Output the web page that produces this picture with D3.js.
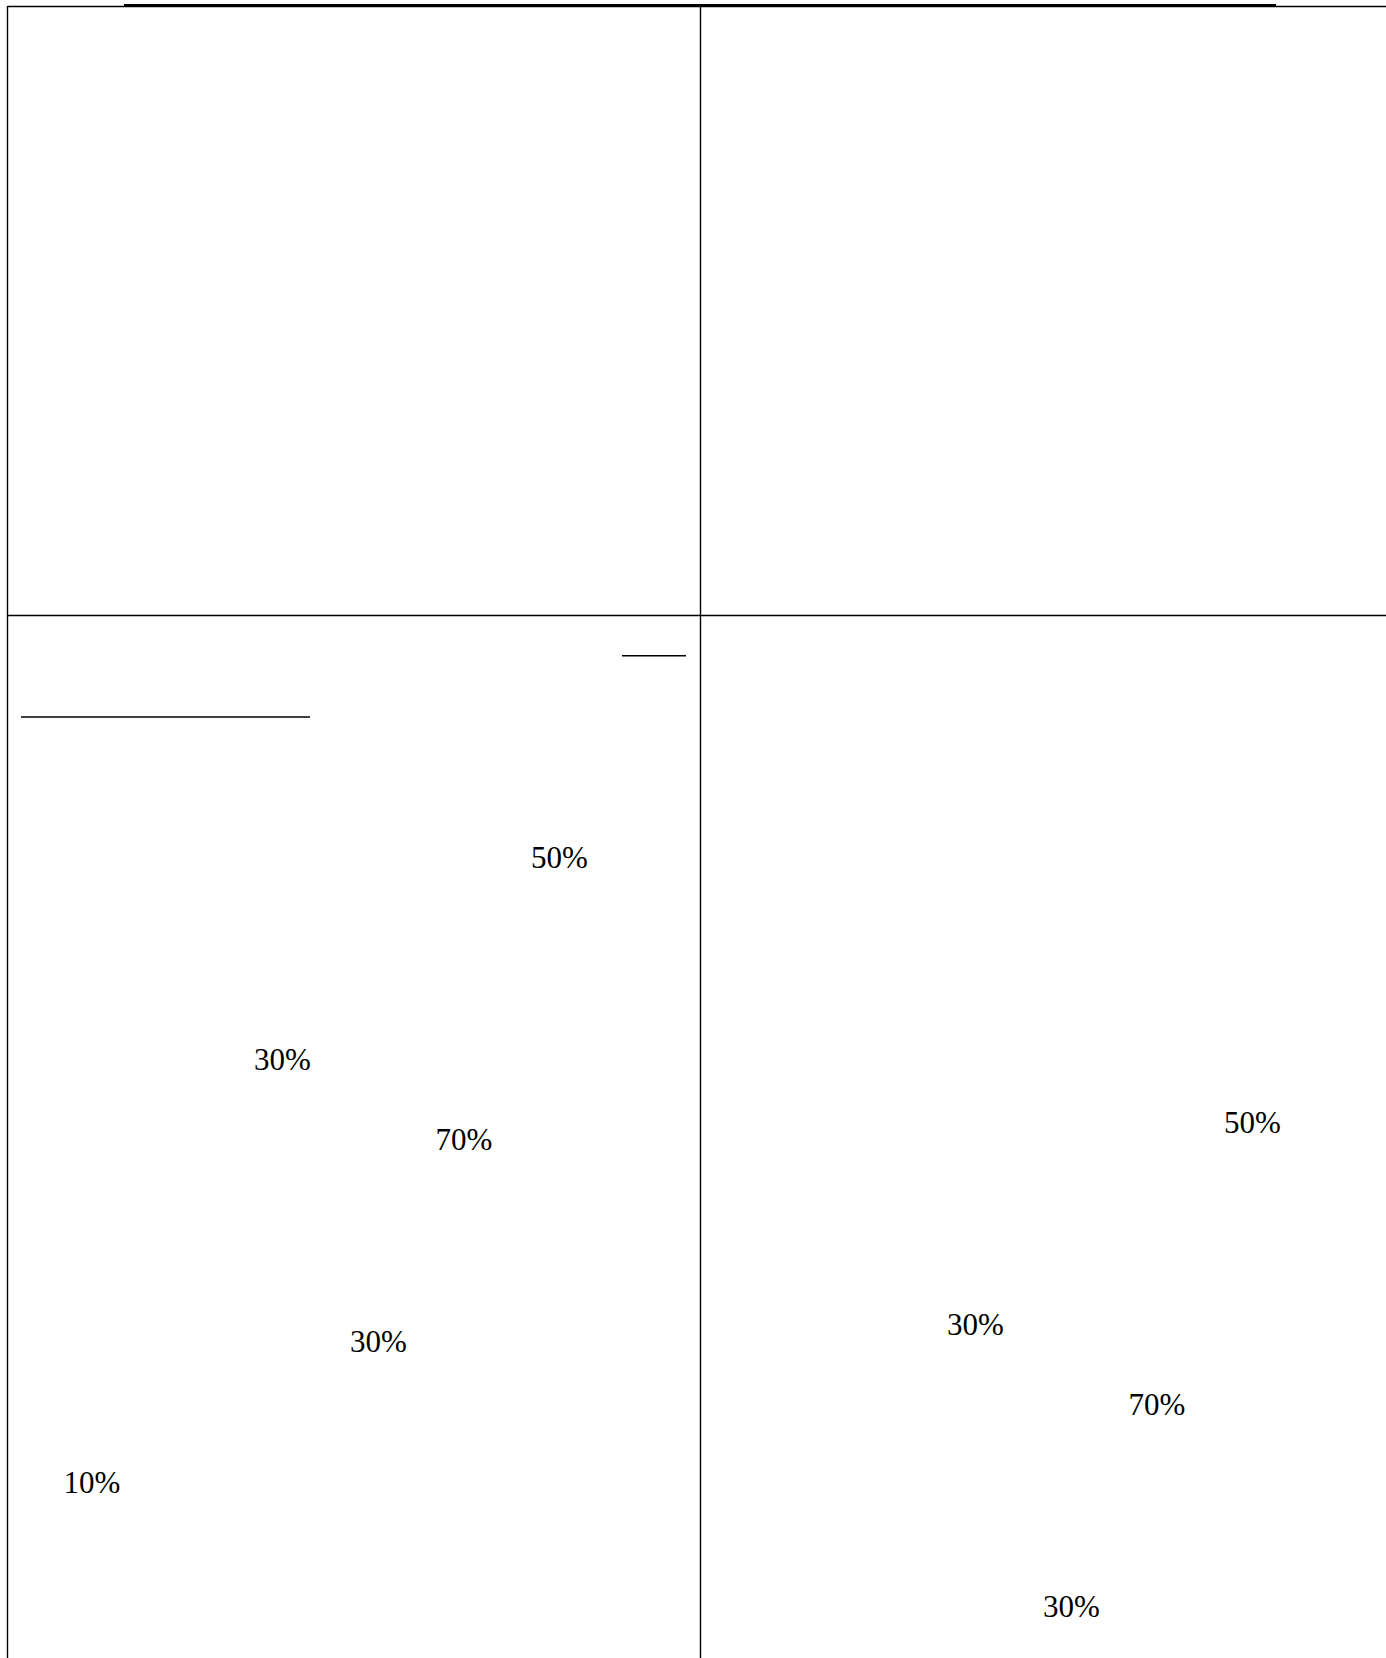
<!DOCTYPE html>
<html>
<head>
<meta charset="utf-8">
<script src="https://cdn.jsdelivr.net/npm/d3@7"></script>
<style>
  html, body { margin: 0; padding: 0; background: #fff; }
  svg { display: block; }
  text { font-family: "Liberation Serif", "Times New Roman", serif; }
</style>
</head>
<body>
<div id="chart"></div>
<script>
// ---- data ----
const labelValues = [50, 30, 70, 30, 10];
// label centre positions (panel units) and baselines (panel units)
const labelX = [552, 275, 456.5, 371, 84.5];
const labelY = [252.5, 454.5, 534.5, 736.5, 877.5];
// panels of the 2x2 grid; the bottom row carries the labels
const panelNames = ["top-left", "top-right", "bottom-left", "bottom-right"];
const panelShiftY = [0, 0, 0, 265];

// ---- layout ----
const W = 1386, H = 1658;
const gridLeft = 7.5, gridTop = 6.5, gridMidX = 700.5, gridMidY = 615.5;

const svg = d3.select("#chart").append("svg")
  .attr("width", W).attr("height", H);

const colX = d3.scaleOrdinal().domain([0, 1]).range([gridLeft, gridMidX]);
const rowY = d3.scaleOrdinal().domain([0, 1]).range([gridTop, gridMidY]);

// grid (table borders)
const gridLines = [
  {x1: gridLeft, y1: gridTop, x2: W, y2: gridTop},
  {x1: gridLeft, y1: gridMidY, x2: W, y2: gridMidY},
  {x1: gridLeft, y1: gridTop - 0.5, x2: gridLeft, y2: H},
  {x1: gridMidX, y1: gridTop - 0.5, x2: gridMidX, y2: H}
];
svg.append("g").selectAll("line").data(gridLines).join("line")
  .attr("x1", d => d.x1).attr("y1", d => d.y1)
  .attr("x2", d => d.x2).attr("y2", d => d.y2)
  .attr("stroke", "#000").attr("stroke-width", 1.4);

// thick rule across the top
svg.append("line")
  .attr("x1", 124).attr("x2", 1276).attr("y1", 5.5).attr("y2", 5.5)
  .attr("stroke", "#000").attr("stroke-width", 3);

// decoration rules in bottom-left panel
const rules = [
  {x1: 622, x2: 686, y: 655.7},
  {x1: 21, x2: 310, y: 717}
];
svg.append("g").selectAll("line").data(rules).join("line")
  .attr("x1", d => d.x1).attr("x2", d => d.x2)
  .attr("y1", d => d.y).attr("y2", d => d.y)
  .attr("stroke", "#000").attr("stroke-width", 1.6);

// labels in bottom panels (only those that fall inside the page)
const labels = labelValues.map((v, i) => ({v, x: labelX[i], y: labelY[i]}));
panelNames.forEach((name, p) => {
  const col = p % 2, row = Math.floor(p / 2);
  if (row === 0) return;
  const x0 = colX(col), y0 = rowY(row) + panelShiftY[p];
  const xs = d3.scaleLinear().domain([0, 693]).range([x0, x0 + 693]);
  const ys = d3.scaleLinear().domain([0, 1042]).range([y0, y0 + 1042]);
  const visible = labels.filter(d => ys(d.y) <= H);
  svg.append("g").attr("class", name)
    .selectAll("text").data(visible).join("text")
    .attr("x", d => xs(d.x))
    .attr("y", d => ys(d.y))
    .attr("text-anchor", "middle")
    .attr("font-size", 31)
    .attr("fill", "#000")
    .text(d => d.v + "%");
});
</script>
</body>
</html>
